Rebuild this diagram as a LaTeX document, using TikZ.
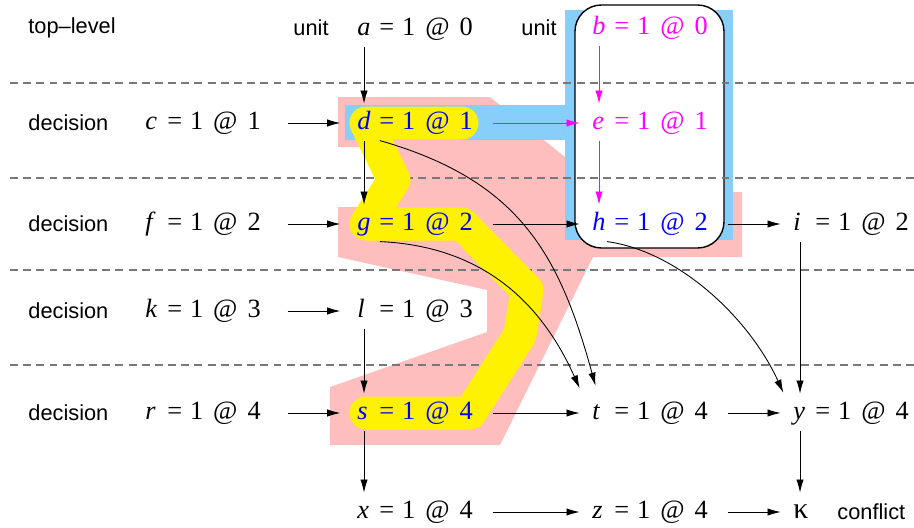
\documentclass[tikz,border=0pt]{standalone}
\usepackage{fontspec}
\setmainfont{Liberation Serif}
\setsansfont{Liberation Sans}
\usetikzlibrary{arrows.meta,positioning}
\definecolor{unitblue}{RGB}{135,206,250}
\definecolor{cutpink}{RGB}{255,190,190}
\definecolor{rowgray}{RGB}{120,120,120}
\definecolor{unitmag}{RGB}{255,0,255}
\definecolor{pathblue}{RGB}{0,0,255}
\newcommand{\asg}[3]{\makebox[0.83em][l]{\itshape #1}=\hspace{0.3em}#2\hspace{0.38em}@\hspace{0.38em}#3}
\tikzset{
  >={Latex[length=7.5pt,width=4.2pt]},
  every path/.style={line width=0.5pt},
  asg/.style={anchor=west, inner sep=0pt, text height=10.5pt, text depth=3pt, font=\fontsize{15}{18}\selectfont},
  lab/.style={anchor=west, inner sep=0pt, font=\sffamily\fontsize{12.4}{14}\selectfont},
  imp/.style={->, shorten <=11pt, shorten >=7pt},
  dec/.style={->, shorten <=15pt, shorten >=9.5pt},
  vert/.style={->, shorten <=3pt, shorten >=4pt},
  level/.style={rowgray, line width=0.8pt, dash pattern=on 4.5pt off 3pt},
}

\begin{document}
\begin{tikzpicture}[x=0.02cm,y=-0.02cm]
\useasboundingbox (0,0) rectangle (914,528);

% conflict side of the cut
\fill[cutpink] (338,97) -- (490,97) -- (570,161) -- (570,192) -- (742,192) -- (742,257)
  -- (593,257) -- (500,445) -- (330,445) -- (330,387) -- (487,332) -- (487,290)
  -- (338,257) -- (338,207) -- (372,207) -- (395,180) -- (380,147) -- (338,147) -- cycle;

% unit part
\fill[unitblue] (565,10) rectangle (733,240);
\fill[unitblue] (345,105) rectangle (570,140);
\draw[line width=0.8pt, fill=white, rounded corners=15pt] (575,5) rectangle (724,248);

% levels
\foreach \yy in {83,178,270,365}
  \draw[level] (10,\yy) -- (914,\yy);

% decisions on the path
\draw[yellow, line width=0.66cm, line cap=round, line join=round]
  (462,123) -- (366,123) -- (394,180) -- (366,224) -- (462,224) -- (527,290)
  -- (520,335) -- (470,413) -- (366,413);

% labels
\node[lab] (toplvl) at (28,28) {top–level};
\node[lab] (unita) at (293,28) {unit};
\node[lab] (unitb) at (521,28) {unit};
\node[lab] (dec1) at (28,123) {decision};
\node[lab] (dec2) at (28,224) {decision};
\node[lab] (dec3) at (28,311) {decision};
\node[lab] (dec4) at (28,413) {decision};

% assignments
\node[asg] (a) at (357,29) {\asg{a}{1}{0}};
\node[asg, unitmag] (b) at (592,28) {\asg{b}{1}{0}};
\node[asg] (c) at (145,123) {\asg{c}{1}{1}};
\node[asg, pathblue] (d) at (357,123) {\asg{d}{1}{1}};
\node[asg, unitmag] (e) at (592,123) {\asg{e}{1}{1}};
\node[asg] (f) at (145,224) {\asg{f}{1}{2}};
\node[asg, pathblue] (g) at (357,224) {\asg{g}{1}{2}};
\node[asg, pathblue] (h) at (592,224) {\asg{h}{1}{2}};
\node[asg] (i) at (793,224) {\asg{i}{1}{2}};
\node[asg] (k) at (145,311) {\asg{k}{1}{3}};
\node[asg] (l) at (357,311) {\asg{l}{1}{3}};
\node[asg] (r) at (145,413) {\asg{r}{1}{4}};
\node[asg, pathblue] (s) at (357,413) {\asg{s}{1}{4}};
\node[asg] (t) at (592,413) {\asg{t}{1}{4}};
\node[asg] (y) at (793,413) {\asg{y}{1}{4}};
\node[asg] (x) at (357,512) {\asg{x}{1}{4}};
\node[asg] (z) at (592,512) {\asg{z}{1}{4}};
\node[asg, font=\fontsize{17}{18}\selectfont] (kappa) at (793,512) {κ};
\node[lab, right=16pt of kappa] (conflictlbl) {conflict};

% implications
\draw[dec] (c) -- (d);
\draw[dec] (f) -- (g);
\draw[dec] (k) -- (l);
\draw[dec] (r) -- (s);
\draw[imp, unitmag] (d) -- (e);
\draw[imp] (g) -- (h);
\draw[imp] (h) -- (i);
\draw[imp] (s) -- (t);
\draw[imp] (t) -- (y);
\draw[imp] (x) -- (z);
\draw[imp] (z) -- (kappa);

\draw[vert] ([xshift=4pt]a.south west) -- ([xshift=4pt]d.north west);
\draw[vert] ([xshift=4pt]d.south west) -- ([xshift=4pt]g.north west);
\draw[vert] ([xshift=4pt]l.south west) -- ([xshift=4pt]s.north west);
\draw[vert] ([xshift=4pt]s.south west) -- ([xshift=4pt]x.north west);
\draw[vert] ([xshift=4pt]i.south west) -- ([xshift=4pt]y.north west);
\draw[vert] ([xshift=4pt]y.south west) -- ([xshift=4pt]kappa.north west);
\draw[vert, unitmag] ([xshift=4pt]b.south west) -- ([xshift=4pt]e.north west);
\draw[vert, unitmag] ([xshift=4pt]e.south west) -- ([xshift=4pt]h.north west);

\draw[->] ([xshift=13pt,yshift=-3pt]d.south west) .. controls +(140,40) and +(-36,-131) .. ([xshift=2pt,yshift=8.5pt]t.north west);
\draw[->] ([xshift=13pt,yshift=-3pt]g.south west) .. controls +(110,5) and +(-35,-78) .. ([xshift=-7pt,yshift=7pt]t.north west);
\draw[->] ([xshift=8.5pt,yshift=-3pt]h.south west) .. controls +(73,10) and +(-33,-73) .. ([xshift=-5.5pt,yshift=4.5pt]y.north west);
\end{tikzpicture}
\end{document}
